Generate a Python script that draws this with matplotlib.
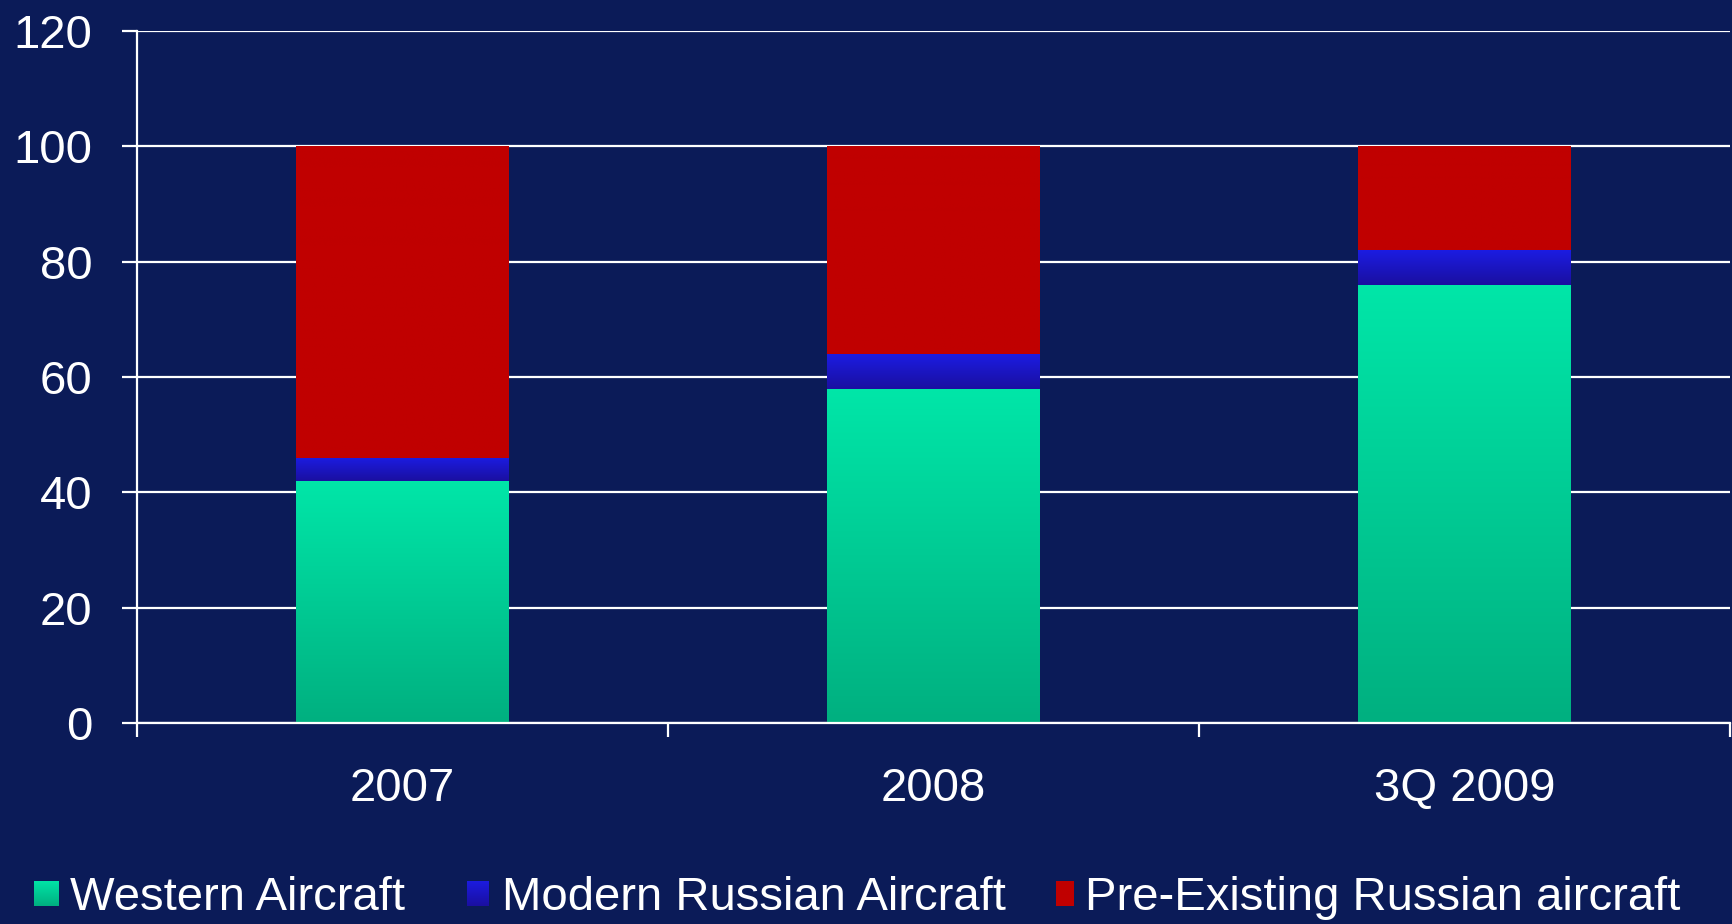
import numpy as np
import matplotlib
matplotlib.use("Agg")
import matplotlib.pyplot as plt
from matplotlib.colors import to_rgb

categories = ["2007", "2008", "3Q 2009"]
western = [42, 58, 76]
modern_russian = [4, 6, 6]
pre_existing = [54, 36, 18]
series_names = ["Western Aircraft", "Modern Russian Aircraft", "Pre-Existing Russian aircraft"]
y_ticks = [0, 20, 40, 60, 80, 100, 120]

bg = "#0b1b58"
# top / bottom colour of each segment's gradient
grads = [("#00e6a8", "#00b080"), ("#1c1ce2", "#1a0fa0"), ("#c00000", "#c00000")]

plt.rcParams["font.family"] = ["Liberation Sans", "DejaVu Sans"]

W, H = 1732, 924
fig = plt.figure(figsize=(W / 100, H / 100), dpi=100, facecolor=bg)
ax = fig.add_axes([137 / W, 1 - 723 / H, (1730 - 137) / W, (723 - 31) / H])
ax.set_facecolor(bg)


def grad_img(c_top, c_bot):
    top = np.array(to_rgb(c_top))
    bot = np.array(to_rgb(c_bot))
    t = np.linspace(0, 1, 64)[:, None]
    return (top * (1 - t) + bot * t)[:, None, :]


x = np.arange(len(categories))
bottom = np.zeros(len(categories))
for vals, (ct, cb) in zip([western, modern_russian, pre_existing], grads):
    bars = ax.bar(x, vals, 0.4, bottom=bottom, color="none", zorder=3)
    img = grad_img(ct, cb)
    for p in bars:
        x0, y0, w, h = p.get_x(), p.get_y(), p.get_width(), p.get_height()
        ax.imshow(img, extent=[x0, x0 + w, y0, y0 + h], aspect="auto",
                  interpolation="bilinear", zorder=2)
    bottom += np.array(vals)

ax.set_xlim(-0.5, 2.5)
ax.set_ylim(0, 120)

ax.set_axisbelow(True)
ax.yaxis.grid(True, color="white", lw=1.6)
for s in ["top", "right"]:
    ax.spines[s].set_visible(False)
for s in ["left", "bottom"]:
    ax.spines[s].set_color("white")
    ax.spines[s].set_linewidth(1.6)

ax.set_yticks(y_ticks)
ax.tick_params(axis="y", colors="white", length=11, width=1.6, pad=21, labelsize=34)

ax.set_xticks([-0.5, 0.5, 1.5, 2.5])
ax.set_xticklabels([])
ax.tick_params(axis="x", which="major", color="white", length=10, width=1.6)
ax.set_xticks(x, categories, minor=True)
ax.tick_params(axis="x", which="minor", length=0, pad=32, labelsize=34, labelcolor="white")

# legend drawn by hand along the bottom
sq_boxes = [(34, 881, 25, 25), (467, 881, 22, 25), (1056, 881, 18, 25)]
text_x = [70, 502, 1085]
for (sx, sy, sw, sh), tx, name, (ct, cb) in zip(sq_boxes, text_x, series_names, grads):
    sax = fig.add_axes([sx / W, 1 - (sy + sh) / H, sw / W, sh / H])
    sax.imshow(grad_img(ct, cb), extent=[0, 1, 0, 1], aspect="auto", interpolation="bilinear")
    sax.axis("off")
    fig.text(tx / W, 1 - 910 / H, name, color="white", fontsize=34, va="baseline", ha="left")

fig.savefig("out.png", dpi=100, facecolor=bg)
